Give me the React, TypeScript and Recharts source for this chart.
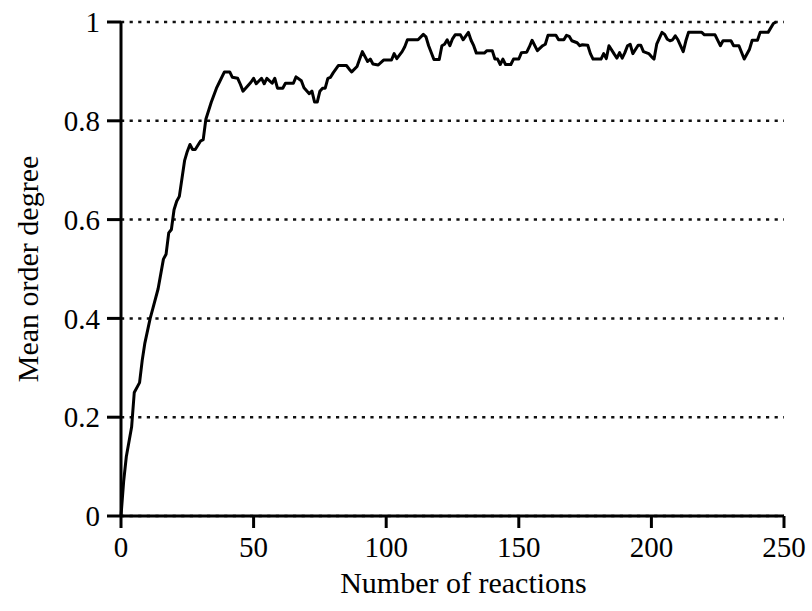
import React from 'react';
import { LineChart, Line, XAxis, YAxis, CartesianGrid, Label } from 'recharts';

const reactions = [
  0, 1, 2, 4, 5, 7, 8, 9, 11, 12, 14, 16, 17, 18, 19, 20, 21, 22, 24, 25,
  26, 27, 28, 30, 31, 32, 34, 36, 37, 39, 41, 42, 44, 45, 46, 48, 49, 50, 51, 53,
  54, 55, 57, 58, 59, 61, 62, 65, 66, 68, 69, 71, 72, 73, 74, 75, 76, 77, 78, 79,
  80, 82, 85, 86, 87, 89, 90, 91, 93, 94, 95, 97, 99, 102, 103, 104, 106, 107, 108, 112,
  114, 115, 116, 118, 120, 121, 122, 123, 124, 125, 126, 128, 129, 131, 132, 133, 134, 137, 138, 140,
  141, 142, 143, 144, 145, 147, 148, 150, 151, 153, 154, 155, 157, 159, 160, 161, 164, 165, 167, 168,
  169, 170, 172, 173, 174, 176, 177, 178, 181, 182, 183, 184, 186, 187, 188, 189, 190, 191, 192, 193,
  195, 196, 197, 199, 200, 201, 202, 204, 205, 206, 207, 208, 209, 210, 212, 213, 214, 219, 220, 224,
  226, 227, 230, 231, 233, 235, 237, 238, 240, 241, 244, 246, 247,
];

const orderDegree = [
  0, 0.07, 0.12, 0.18, 0.25, 0.27, 0.315, 0.35, 0.4, 0.42, 0.46, 0.52, 0.53, 0.573, 0.58, 0.62, 0.637, 0.647, 0.72, 0.738,
  0.752, 0.742, 0.742, 0.759, 0.762, 0.803, 0.837, 0.866, 0.877, 0.899, 0.899, 0.888, 0.886, 0.874, 0.86, 0.872, 0.878, 0.886, 0.875, 0.886,
  0.875, 0.886, 0.876, 0.886, 0.866, 0.866, 0.876, 0.876, 0.889, 0.881, 0.867, 0.855, 0.86, 0.838, 0.838, 0.86, 0.866, 0.866, 0.886, 0.888,
  0.897, 0.912, 0.912, 0.905, 0.899, 0.91, 0.925, 0.94, 0.92, 0.925, 0.915, 0.913, 0.923, 0.923, 0.936, 0.926, 0.94, 0.95, 0.964, 0.964,
  0.975, 0.97, 0.952, 0.924, 0.924, 0.952, 0.955, 0.964, 0.952, 0.966, 0.974, 0.974, 0.964, 0.979, 0.963, 0.952, 0.937, 0.937, 0.942, 0.942,
  0.925, 0.925, 0.914, 0.925, 0.914, 0.914, 0.925, 0.925, 0.938, 0.939, 0.95, 0.963, 0.942, 0.952, 0.955, 0.973, 0.973, 0.964, 0.964, 0.973,
  0.971, 0.962, 0.958, 0.952, 0.954, 0.953, 0.936, 0.925, 0.925, 0.936, 0.926, 0.952, 0.935, 0.927, 0.938, 0.927, 0.938, 0.952, 0.955, 0.936,
  0.953, 0.953, 0.94, 0.936, 0.93, 0.925, 0.955, 0.979, 0.975, 0.965, 0.962, 0.964, 0.972, 0.964, 0.94, 0.962, 0.979, 0.979, 0.974, 0.974,
  0.952, 0.962, 0.962, 0.952, 0.952, 0.925, 0.945, 0.963, 0.963, 0.979, 0.979, 0.997, 1.0,
];

const xTicks = [0, 50, 100, 150, 200, 250];
const yTicks = [0, 0.2, 0.4, 0.6, 0.8, 1];
const xTitle = 'Number of reactions';
const yTitle = 'Mean order degree';

const data = reactions.map((x, i) => ({ x, y: orderDegree[i] }));

const FONT = '"Liberation Serif", "Times New Roman", serif';
const tickStyle = { fontFamily: FONT, fontSize: 29, fill: '#000' };

const XTitle = (props: any) => {
  const vb = props.viewBox || {};
  return (
    <text x={vb.x + vb.width / 2 + 11} y={vb.y + vb.height - 18} textAnchor="middle"
      fontFamily={FONT} fontSize={30} fill="#000">{xTitle}</text>
  );
};

const YTitle = (props: any) => {
  const vb = props.viewBox || {};
  const cx = vb.x + 38;
  const cy = vb.y + vb.height / 2;
  return (
    <text x={cx} y={cy} textAnchor="middle" transform={`rotate(-90, ${cx}, ${cy})`}
      fontFamily={FONT} fontSize={30} fill="#000">{yTitle}</text>
  );
};

export default function App() {
  return (
    <div style={{ position: 'absolute', left: 0, top: 0, width: 812, height: 611, background: '#fff' }}>
      <LineChart width={812} height={611} data={data} margin={{ top: 22, right: 28, bottom: 0, left: 0 }}>
        <CartesianGrid horizontal vertical={false} stroke="#111" strokeWidth={2.5} strokeDasharray="3.2 5.4" />
        <XAxis
          type="number"
          dataKey="x"
          domain={[0, 250]}
          ticks={xTicks}
          height={95}
          tickSize={12}
          tickMargin={8}
          tick={tickStyle}
          tickLine={{ stroke: '#000', strokeWidth: 3 }}
          axisLine={{ stroke: '#000', strokeWidth: 3 }}
          label={<Label content={<XTitle />} />}
        />
        <YAxis
          type="number"
          domain={[0, 1]}
          ticks={yTicks}
          width={121}
          tickSize={14}
          tickMargin={7}
          tick={tickStyle}
          tickLine={{ stroke: '#000', strokeWidth: 3 }}
          axisLine={{ stroke: '#000', strokeWidth: 3 }}
          label={<Label content={<YTitle />} />}
        />
        <Line type="linear" dataKey="y" stroke="#000" strokeWidth={3} dot={false}
          strokeLinejoin="round" isAnimationActive={false} />
      </LineChart>
    </div>
  );
}
